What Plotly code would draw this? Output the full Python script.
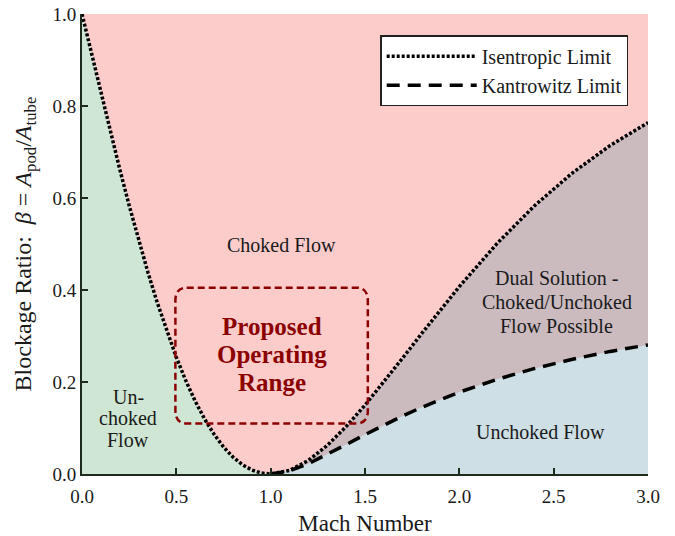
import plotly.graph_objects as go

# Isentropic limit: blockage ratio vs Mach number (gamma = 1.4)
mach_sub = [0.0, 0.05, 0.1, 0.15, 0.2, 0.25, 0.3, 0.35, 0.4, 0.45, 0.5, 0.55,
            0.6, 0.65, 0.7, 0.75, 0.8, 0.85, 0.9, 0.95, 1.0]
beta_isen_sub = [1.0, 0.9137, 0.8282, 0.7443, 0.6626, 0.5838, 0.5086, 0.4376,
                 0.3711, 0.3097, 0.2536, 0.2031, 0.1584, 0.1194, 0.0863, 0.0587,
                 0.0368, 0.0203, 0.0088, 0.0021, 0.0]

mach_sup = [1.0, 1.1, 1.2, 1.3, 1.4, 1.5, 1.6, 1.7, 1.8, 1.9, 2.0, 2.2, 2.4,
            2.6, 2.8, 3.0]
beta_isen_sup = [0.0, 0.0078, 0.0295, 0.0622, 0.1031, 0.1498, 0.2001, 0.2524,
                 0.3051, 0.3570, 0.4074, 0.5012, 0.5839, 0.6547, 0.7143, 0.7639]

# Kantrowitz limit (supersonic only)
beta_kant = [0.0, 0.0067, 0.0225, 0.0425, 0.0639, 0.0856, 0.1065, 0.1263,
             0.1449, 0.1622, 0.1780, 0.2059, 0.2295, 0.2495, 0.2665, 0.2807]

# Proposed operating range box (Mach, beta)
box_mach = [0.495, 1.515]
box_beta = [0.11, 0.405]

x_ticks = [0.0, 0.5, 1.0, 1.5, 2.0, 2.5, 3.0]
y_ticks = [0.0, 0.2, 0.4, 0.6, 0.8, 1.0]

# Region labels: (Mach, beta of each line, lines)
region_labels = [
    (1.06, [0.498], ["Choked Flow"]),
    (0.244, [0.167, 0.122, 0.074], ["Un-", "choked", "Flow"]),
    (2.517, [0.426, 0.374, 0.322], ["Dual Solution -", "Choked/Unchoked", "Flow Possible"]),
    (2.43, [0.091], ["Unchoked Flow"]),
]
range_label_beta = [0.320, 0.259, 0.198]
range_label_lines = ["Proposed", "Operating", "Range"]

PINK = "#FCCCCB"
GREEN = "#CFE6D4"
MAUVE = "#CBBBBF"
BLUE = "#CEDFE5"
DARKRED = "#8B0000"
FONT = "Liberation Serif, DejaVu Serif, serif"
TXT = "#1a1a1a"
AX = "#1c2b1c"

fig = go.Figure()

# Region fills
fig.add_trace(go.Scatter(x=mach_sub, y=beta_isen_sub, fill="tozeroy",
                         fillcolor=GREEN, line=dict(width=0), mode="lines",
                         showlegend=False, hoverinfo="skip"))
fig.add_trace(go.Scatter(x=mach_sup, y=beta_isen_sup, fill="tozeroy",
                         fillcolor=MAUVE, line=dict(width=0), mode="lines",
                         showlegend=False, hoverinfo="skip"))
fig.add_trace(go.Scatter(x=mach_sup, y=beta_kant, fill="tozeroy",
                         fillcolor=BLUE, line=dict(width=0), mode="lines",
                         showlegend=False, hoverinfo="skip"))

# Limit curves
fig.add_trace(go.Scatter(x=mach_sup, y=beta_kant, mode="lines",
                         name="Kantrowitz Limit",
                         line=dict(color="black", width=3.5, dash="13px,8px"),
                         legendrank=2))
fig.add_trace(go.Scatter(x=mach_sub + mach_sup[1:],
                         y=beta_isen_sub + beta_isen_sup[1:], mode="lines",
                         name="Isentropic Limit",
                         line=dict(color="black", width=3.5, dash="3px,2px"),
                         legendrank=1))

# Rounded dashed box
x0, x1 = box_mach
y0, y1 = box_beta
rx, ry = 0.06, 0.028
path = (f"M{x0+rx},{y1} L{x1-rx},{y1} Q{x1},{y1} {x1},{y1-ry} "
        f"L{x1},{y0+ry} Q{x1},{y0} {x1-rx},{y0} L{x0+rx},{y0} "
        f"Q{x0},{y0} {x0},{y0+ry} L{x0},{y1-ry} Q{x0},{y1} {x0+rx},{y1} Z")
fig.add_shape(type="path", path=path, xref="x", yref="y",
              line=dict(color=DARKRED, width=2.5, dash="7px,4px"))

for ly, lt in zip(range_label_beta, range_label_lines):
    fig.add_annotation(x=(x0 + x1) / 2, y=ly, text=f"<b>{lt}</b>",
                       showarrow=False,
                       font=dict(family=FONT, size=25, color=DARKRED))

for lx, lys, lts in region_labels:
    for ly, lt in zip(lys, lts):
        fig.add_annotation(x=lx, y=ly, text=lt, showarrow=False,
                           font=dict(family=FONT, size=20, color=TXT))

axis_common = dict(showline=True, linecolor=AX, linewidth=2,
                   ticks="inside", ticklen=6, tickwidth=1.5, tickcolor=AX,
                   showgrid=False, zeroline=False, mirror=False,
                   automargin=False,
                   tickfont=dict(family=FONT, size=19, color=TXT))

fig.update_xaxes(range=[0, 3], tickvals=x_ticks,
                 ticktext=[f"{v:.1f}" for v in x_ticks],
                 ticklabelstandoff=4,
                 title=dict(text="Mach Number", standoff=10,
                            font=dict(family=FONT, size=23, color=TXT)),
                 **axis_common)
fig.update_yaxes(range=[0, 1], tickvals=y_ticks,
                 ticktext=[f"{v:.1f}" for v in y_ticks],
                 title=dict(text="Blockage Ratio:  <i>β</i> = <i>A</i><sub>pod</sub>/<i>A</i><sub>tube</sub>",
                            standoff=14,
                            font=dict(family=FONT, size=24, color=TXT)),
                 **axis_common)

fig.update_layout(
    width=675, height=536,
    margin=dict(l=82, r=27, t=14, b=62),
    font=dict(family=FONT, color=TXT),
    paper_bgcolor="white",
    plot_bgcolor=PINK,
    showlegend=True,
    legend=dict(x=0.965, y=0.954, xanchor="right", yanchor="top",
                bgcolor="white", bordercolor="#222", borderwidth=1.5,
                itemwidth=90, tracegroupgap=0,
                font=dict(family=FONT, size=20, color=TXT)),
)

fig.write_html("out.html")
